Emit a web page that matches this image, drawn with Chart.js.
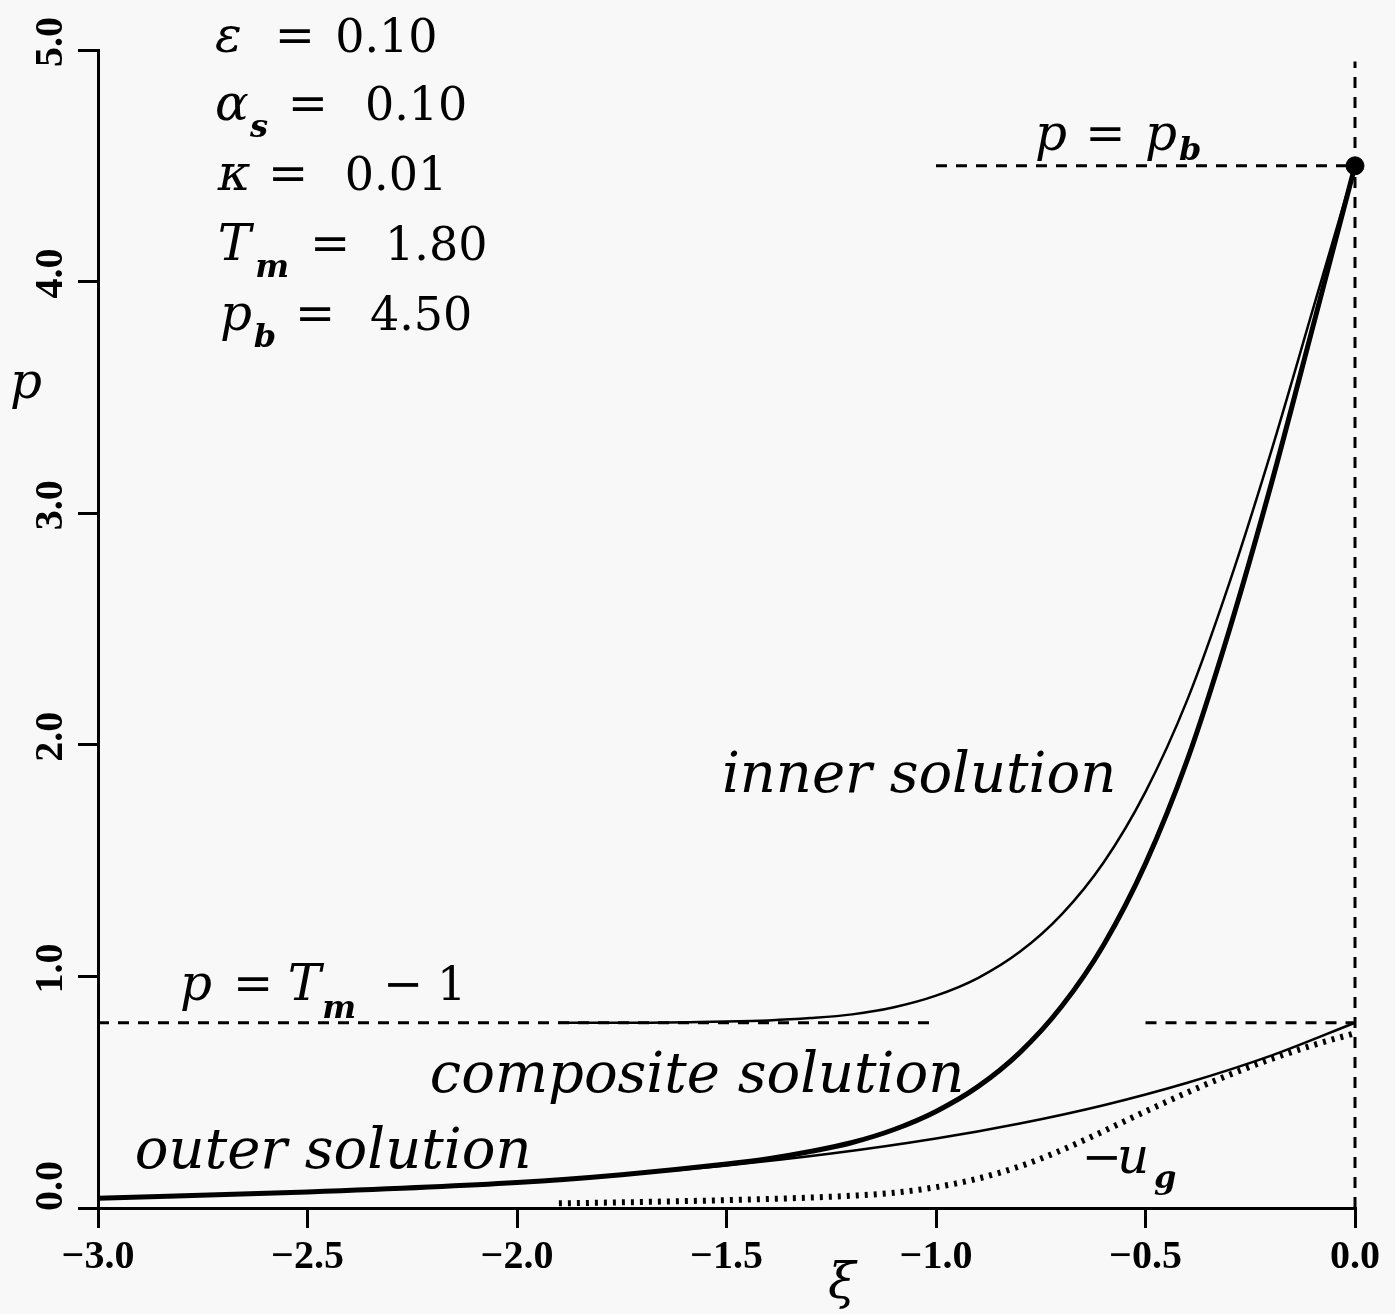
<!DOCTYPE html>
<html>
<head>
<meta charset="utf-8">
<script src="https://cdn.jsdelivr.net/npm/chart.js@4.4.1/dist/chart.umd.min.js"></script>
<style>
  html, body { margin: 0; padding: 0; background: #f8f8f8; }
  #wrap { width: 1395px; height: 1314px; }
</style>
</head>
<body>
<div id="wrap"><canvas id="chart" width="1395" height="1314"></canvas></div>
<script>
// values: xi along the bottom, p up the side
var innerXi = [-1.9, -1.7, -1.5, -1.4, -1.3, -1.2, -1.1, -1.0, -0.9, -0.8, -0.7, -0.6, -0.5, -0.4, -0.3, -0.2, -0.1, 0];
var innerP  = [0.80, 0.80, 0.805, 0.81, 0.82, 0.836, 0.867, 0.917, 0.993, 1.106, 1.268, 1.492, 1.797, 2.195, 2.698, 3.267, 3.883, 4.50];

var compositeXi = [-3.0, -2.5, -2.0, -1.75, -1.5, -1.4, -1.3, -1.2, -1.1, -1.0, -0.9, -0.8, -0.7, -0.6, -0.5, -0.4, -0.3, -0.2, -0.1, 0];
var compositeP  = [0.042, 0.069, 0.11, 0.144, 0.19, 0.213, 0.244, 0.283, 0.339, 0.417, 0.524, 0.671, 0.871, 1.136, 1.487, 1.936, 2.495, 3.125, 3.809, 4.50];

var outerXi = [-3.0, -2.5, -2.0, -1.75, -1.5, -1.25, -1.0, -0.8, -0.6, -0.4, -0.2, 0];
var outerP  = [0.042, 0.069, 0.11, 0.144, 0.184, 0.235, 0.30, 0.365, 0.444, 0.541, 0.658, 0.80];

var ugXi = [-1.9, -1.7, -1.5, -1.3, -1.2, -1.1, -1.0, -0.9, -0.8, -0.7, -0.6, -0.5, -0.4, -0.3, -0.2, -0.1, 0];
var ugP  = [0.02, 0.026, 0.034, 0.045, 0.053, 0.066, 0.09, 0.127, 0.18, 0.25, 0.332, 0.417, 0.499, 0.575, 0.643, 0.703, 0.755];

// reference levels
var pMelt = 0.8;        // p = T_m - 1
var pB = 4.5;           // p = p_b
var meltLeftXi = [-3.0, -1.0];
var meltRightXi = [-0.5, 0];
var pbLineXi = [-1.0, 0];
var wallP = [0, 4.95];

var xTickLabels = ['\u22123.0', '\u22122.5', '\u22122.0', '\u22121.5', '\u22121.0', '\u22120.5', '0.0'];
var yTickLabels = ['0.0', '1.0', '2.0', '3.0', '4.0', '5.0'];

function pts(xs, ys) {
    return xs.map(function (x, i) { return { x: x, y: ys[i] }; });
}
function flat(xs, v) {
    return xs.map(function (x) { return { x: x, y: v }; });
}

var fonts = {
    sym: 'italic 50px "DejaVu Serif"',
    sub: 'italic bold 32px "DejaVu Serif"',
    eq: '48px "DejaVu Serif"',
    num: '46px "DejaVu Serif"',
    label: 'italic 56px "DejaVu Serif"',
    tick: 'bold 40px "Liberation Serif"'
};

// [text, xi, p, font]  (left end of the text at the baseline)
var notes = [
    ['\u03b5', -2.721, 4.991, 'sym'], ['=', -2.578, 4.991, 'eq'], ['0.10', -2.434, 4.991, 'num'],
    ['\u03b1', -2.721, 4.698, 'sym'], ['s', -2.637, 4.624, 'sub'], ['=', -2.547, 4.698, 'eq'], ['0.10', -2.363, 4.698, 'num'],
    ['\u03ba', -2.714, 4.396, 'sym'], ['=', -2.594, 4.396, 'eq'], ['0.01', -2.411, 4.396, 'num'],
    ['T', -2.714, 4.093, 'sym'], ['m', -2.625, 4.020, 'sub'], ['=', -2.494, 4.093, 'eq'], ['1.80', -2.315, 4.093, 'num'],
    ['p', -2.709, 3.791, 'sym'], ['b', -2.628, 3.718, 'sub'], ['=', -2.530, 3.791, 'eq'], ['4.50', -2.351, 3.791, 'num'],

    ['inner solution', -1.511, 1.796, 'label'],
    ['composite solution', -2.208, 0.501, 'label'],
    ['outer solution', -2.912, 0.173, 'label'],

    ['p', -2.804, 0.898, 'sym'], ['=', -2.678, 0.898, 'eq'], ['T', -2.547, 0.898, 'sym'],
    ['m', -2.465, 0.820, 'sub'], ['\u2212', -2.320, 0.898, 'eq'], ['1', -2.191, 0.898, 'num'],

    ['p', -0.764, 4.568, 'sym'], ['=', -0.644, 4.568, 'eq'], ['p', -0.501, 4.568, 'sym'], ['b', -0.42, 4.525, 'sub'],

    ['\u2212', -0.652, 0.151, 'eq'], ['u', -0.568, 0.151, 'sym'], ['g', -0.48, 0.086, 'sub'],

    ['p', -3.21, 3.497, 'sym'],
    ['\u03be', -1.258, -0.389, 'sym']
];

var textPlugin = {
    id: 'mathText',
    afterDraw: function (chart) {
        var ctx = chart.ctx;
        var xs = chart.scales.x, ys = chart.scales.y;
        ctx.save();
        ctx.fillStyle = '#000';
        ctx.textBaseline = 'alphabetic';
        ctx.textAlign = 'left';
        notes.forEach(function (n) {
            ctx.font = fonts[n[3]];
            ctx.fillText(n[0], xs.getPixelForValue(n[1]), ys.getPixelForValue(n[2]));
        });
        // y tick labels, turned to read upwards
        ctx.font = fonts.tick;
        ctx.textAlign = 'center';
        ctx.textBaseline = 'middle';
        yTickLabels.forEach(function (lab, i) {
            var y = ys.getPixelForValue(i) - (i === 0 ? 22 : 8);
            ctx.save();
            ctx.translate(52, y);
            ctx.rotate(-Math.PI / 2);
            ctx.fillText(lab, 0, 0);
            ctx.restore();
        });
        ctx.restore();
    }
};

var base = {
    showLine: true,
    borderColor: '#000',
    backgroundColor: '#000',
    pointRadius: 0,
    fill: false,
    clip: false
};
function ds(extra) { return Object.assign({}, base, extra); }

new Chart(document.getElementById('chart').getContext('2d'), {
    type: 'scatter',
    data: {
        datasets: [
            ds({ label: 'p = Tm - 1 (left)', data: flat(meltLeftXi, pMelt), borderWidth: 3, borderDash: [11, 9] }),
            ds({ label: 'p = Tm - 1 (right)', data: flat(meltRightXi, pMelt), borderWidth: 3, borderDash: [11, 9] }),
            ds({ label: 'p = pb', data: flat(pbLineXi, pB), borderWidth: 3, borderDash: [11, 9] }),
            ds({ label: 'xi = 0', data: wallP.map(function (p) { return { x: 0, y: p }; }), borderWidth: 3, borderDash: [11, 9] }),
            ds({ label: '-ug', data: pts(ugXi, ugP), borderWidth: 6, borderDash: [3, 6], cubicInterpolationMode: 'monotone' }),
            ds({ label: 'outer solution', data: pts(outerXi, outerP), borderWidth: 2.5, cubicInterpolationMode: 'monotone' }),
            ds({ label: 'inner solution', data: pts(innerXi, innerP), borderWidth: 2.5, cubicInterpolationMode: 'monotone' }),
            ds({ label: 'composite solution', data: pts(compositeXi, compositeP), borderWidth: 5, cubicInterpolationMode: 'monotone' }),
            ds({ label: 'p_b', data: [{ x: 0, y: pB }], showLine: false, pointRadius: 9 })
        ]
    },
    options: {
        responsive: false,
        animation: false,
        layout: { padding: { left: 0, top: 50, right: 40, bottom: 0 } },
        plugins: {
            legend: { display: false },
            tooltip: { enabled: false }
        },
        scales: {
            x: {
                type: 'linear',
                min: -3,
                max: 0,
                afterFit: function (s) { s.height = 106; },
                ticks: {
                    stepSize: 0.5,
                    autoSkip: false,
                    maxRotation: 0,
                    padding: 6,
                    color: '#000',
                    font: { family: 'Liberation Serif', size: 40, weight: 'bold' },
                    callback: function (v, i) { return xTickLabels[i]; }
                },
                grid: { drawOnChartArea: false, drawTicks: true, tickLength: 20, color: '#000', lineWidth: 3 },
                border: { display: true, color: '#000', width: 3 }
            },
            y: {
                type: 'linear',
                min: 0,
                max: 5,
                afterFit: function (s) { s.width = 98; },
                ticks: { stepSize: 1, display: false },
                grid: { drawOnChartArea: false, drawTicks: true, tickLength: 20, color: '#000', lineWidth: 3 },
                border: { display: true, color: '#000', width: 3 }
            }
        }
    },
    plugins: [textPlugin]
});
</script>
</body>
</html>
